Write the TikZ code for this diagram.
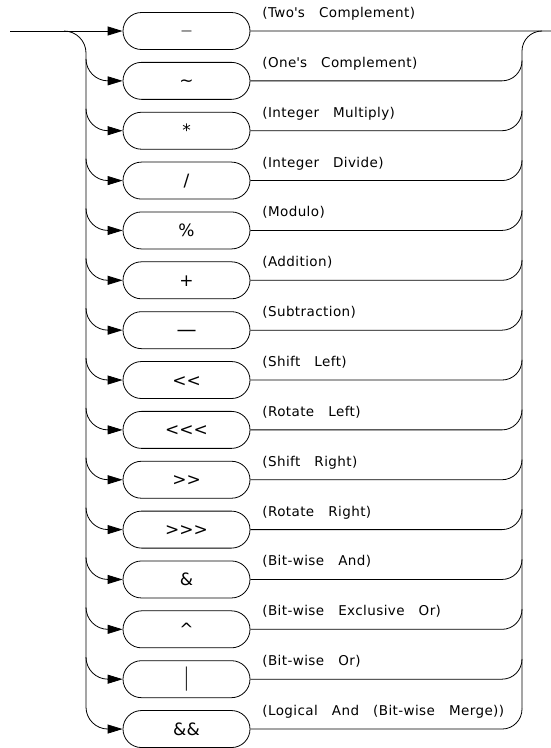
\documentclass[tikz,border=0pt]{standalone}
\usepackage{fontspec}
\usepackage{graphicx}
\usetikzlibrary{arrows.meta,shapes.misc}
\newfontfamily\labfont[LetterSpace=3,WordSpace=3]{DejaVu Sans}
\newfontfamily\symfont{DejaVu Sans}
\newcommand{\ArrTip}{Triangle[length=15pt,width=9pt]}
\newcommand{\SymSize}[1]{\fontsize{#1}{#1}\selectfont}
\tikzset{opbox/.style={draw,rounded rectangle,minimum width=127pt,minimum height=37pt,inner sep=0pt,text height=12pt,text depth=0pt,font=\symfont\SymSize{17}}}
\tikzset{oplabel/.style={anchor=base west,inner sep=0pt,font=\labfont\SymSize{13.5}}}
\tikzset{rail/.style={line width=.8pt,line join=round}}

\begin{document}
\begin{tikzpicture}[x=1pt,y=-1pt,rail]
\useasboundingbox(0,0)rectangle(551,748);
\foreach \sym/\txt [count=\i] in {{\SymSize{11}\raisebox{3pt}{—}}/{(Two\textquotesingle s Complement)},{\textasciitilde}/{(One\textquotesingle s Complement)},{*}/{(Integer Multiply)},{/}/{(Integer Divide)},{\%}/{(Modulo)},{+}/{(Addition)},{\SymSize{20}—}/{(Subtraction)},{<<}/{(Shift Left)},{<<<}/{(Rotate Left)},{>>}/{(Shift Right)},{>>>}/{(Rotate Right)},{\&}/{(Bit-wise And)},{\textasciicircum}/{(Bit-wise Exclusive Or)},{\SymSize{11}\scalebox{1}[2.2]{|}}/{(Bit-wise Or)},{\&\&}/{(Logical And (Bit-wise Merge))}}{
\pgfmathsetmacro{\y}{31+(\i-1)*49.86}
\node[opbox](op\i)at(186.5,\y){\sym};
\node[oplabel](lab\i)at(262,\y-13.5){\txt};
\coordinate(lb\i)at(86,\y-22);\coordinate(rb\i)at(522,\y-20);
}
% entry and exit of the top row
\coordinate(start)at(10,31);\coordinate(lsplit)at(64,31);\coordinate(stop)at(551,31);\coordinate(rjoin)at(542,31);
\draw[-{\ArrTip}](start)--(op1);\draw(op1)--(stop);
% the two rails
\draw[rounded corners=22pt](lsplit)-|(lb15);
\draw[rounded corners=20pt](rb15)|-(rjoin);
\foreach \i in {2,...,15}{\draw[-{\ArrTip},rounded corners=22pt](lb\i)|-(op\i);\draw[rounded corners=20pt](op\i)-|(rb\i);}
\end{tikzpicture}
\end{document}
